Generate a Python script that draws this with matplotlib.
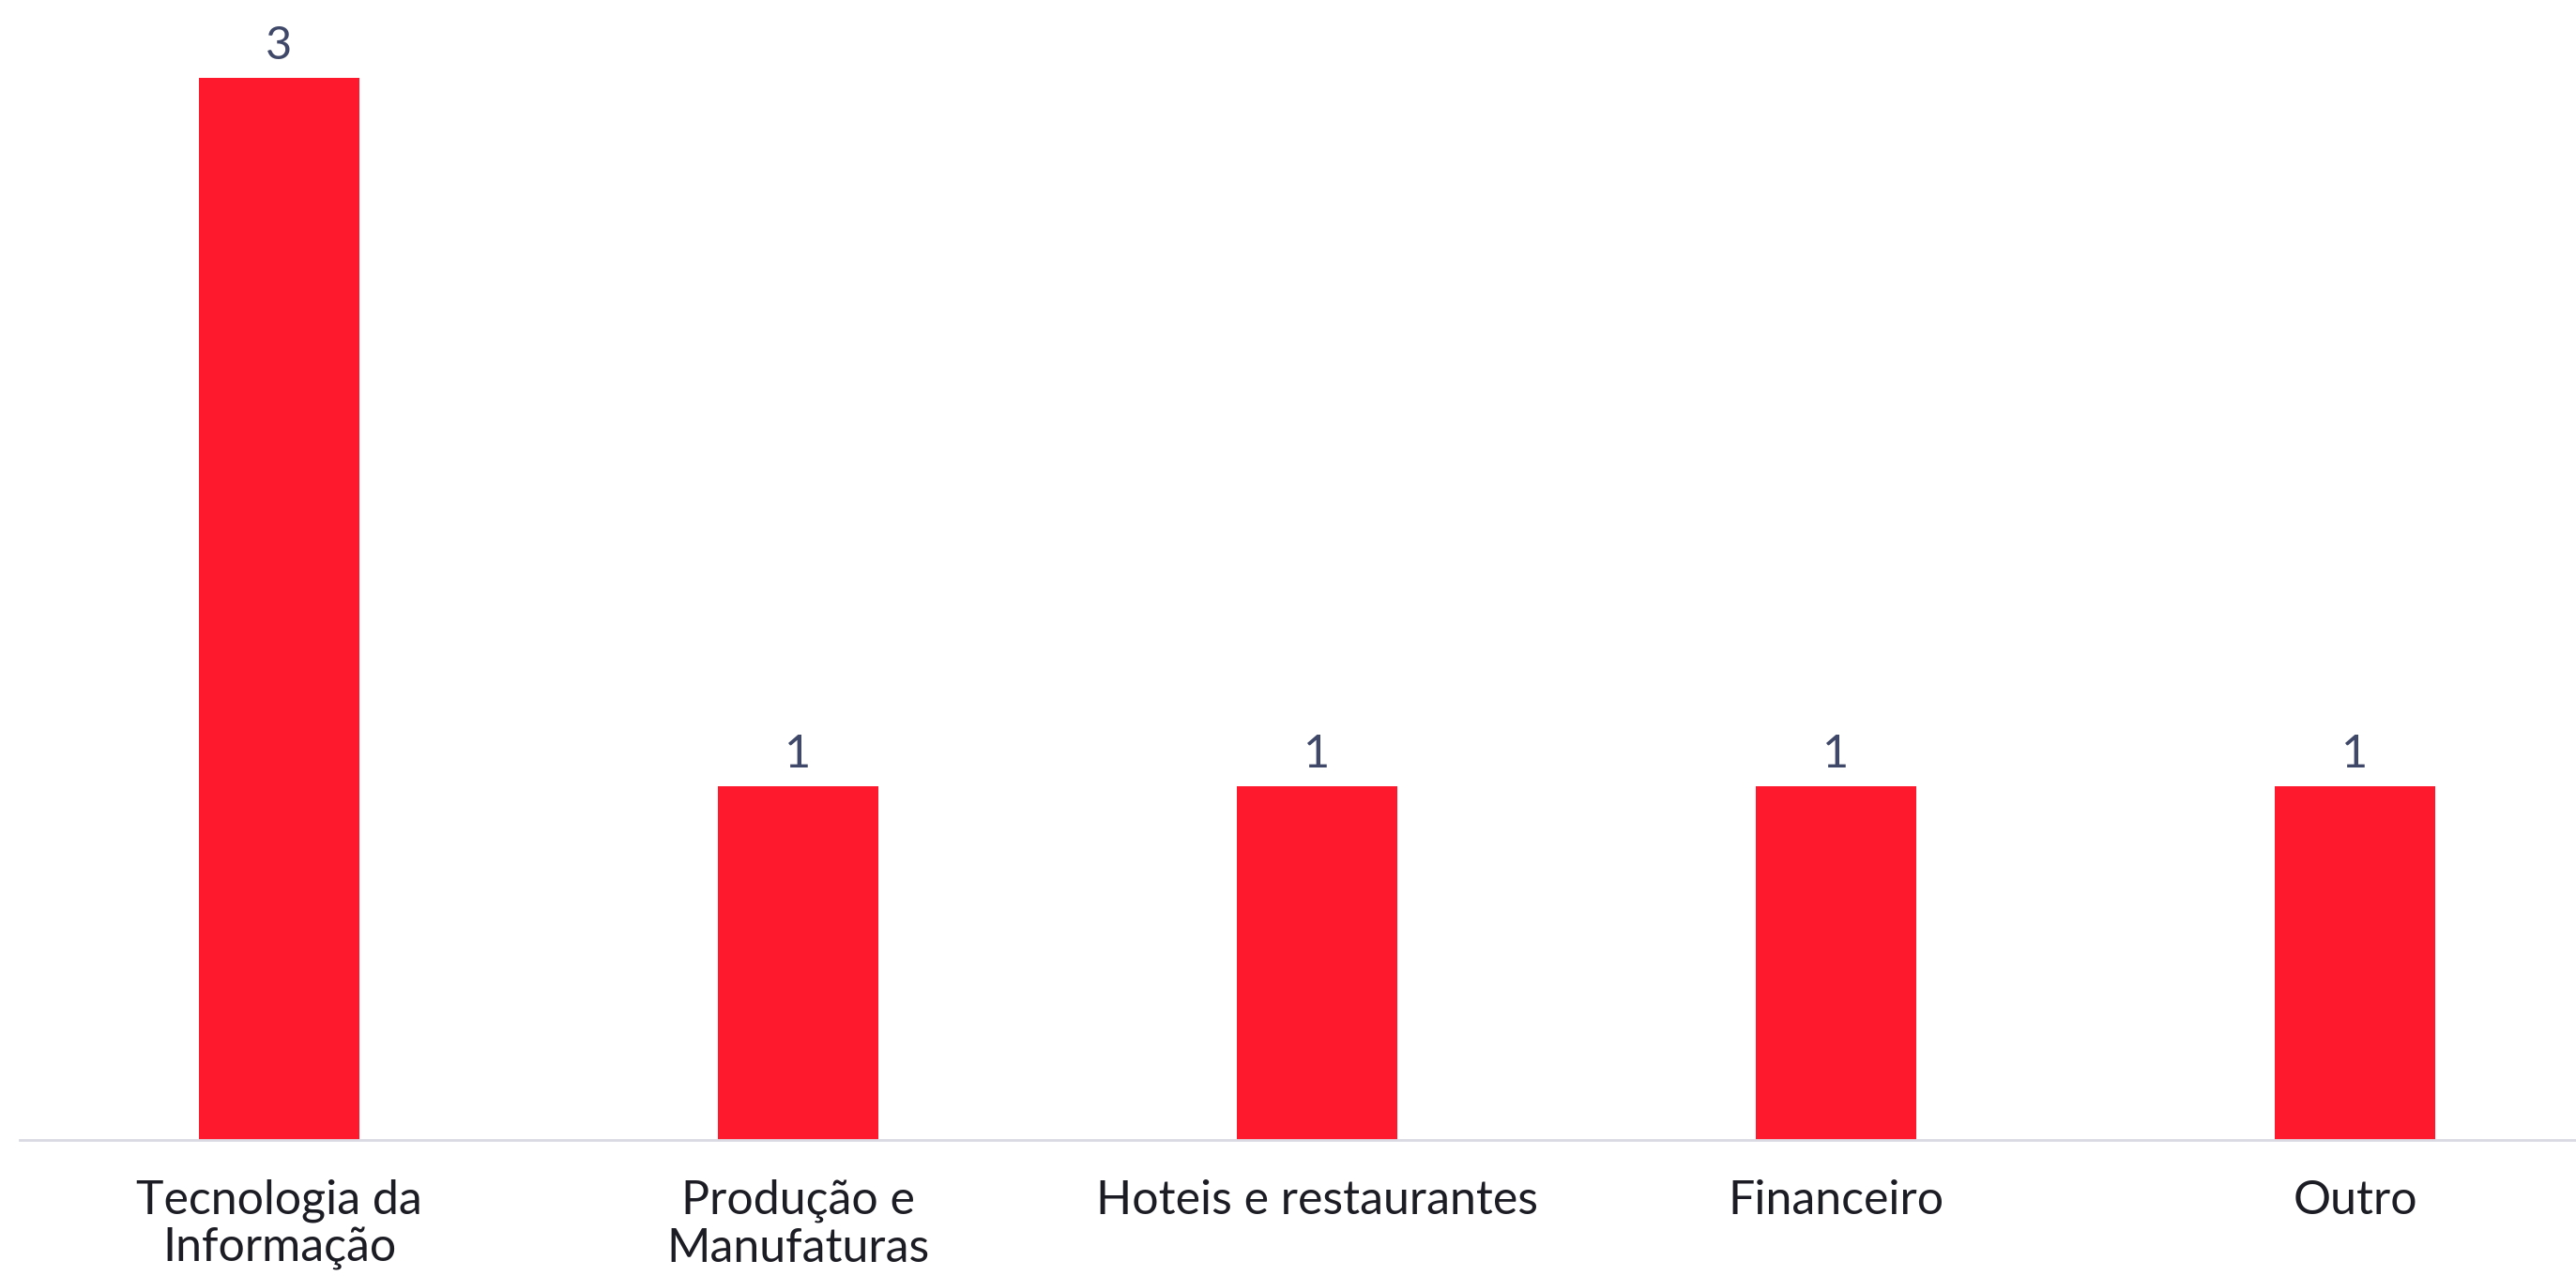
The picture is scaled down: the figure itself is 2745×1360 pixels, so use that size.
import matplotlib.pyplot as plt

categories = ["Tecnologia da\nInformação", "Produção e\nManufaturas",
              "Hoteis e restaurantes", "Financeiro", "Outro"]
values = [3, 1, 1, 1, 1]

BAR_COLOR = "#FF192D"
LABEL_COLOR = "#3F4868"
TICK_COLOR = "#1C1C24"

plt.rcParams['font.family'] = ['Lato', 'DejaVu Sans']

fig = plt.figure(figsize=(27.45, 13.6), dpi=100)
# axes spans one slot per category; the right end runs slightly past the image
ax = fig.add_axes([21 / 2745, 1 - 1215 / 1360, 2765 / 2745, 1208 / 1360])

x = range(len(categories))
bars = ax.bar(x, values, width=0.31, color=BAR_COLOR)
ax.bar_label(bars, labels=[str(v) for v in values], padding=8,
             fontsize=35, color=LABEL_COLOR)

ax.set_xlim(-0.5, 4.5)
ax.set_ylim(0, 3.2)
ax.set_xticks(list(x))
ax.set_xticklabels(categories, fontsize=36, color=TICK_COLOR,
                   linespacing=1.12)
ax.tick_params(axis='x', length=0, pad=30)
ax.set_yticks([])

for side in ('top', 'right', 'left'):
    ax.spines[side].set_visible(False)
ax.spines['bottom'].set_color('#D9D9E3')
ax.spines['bottom'].set_linewidth(2)

fig.savefig("out.png", dpi=100)
